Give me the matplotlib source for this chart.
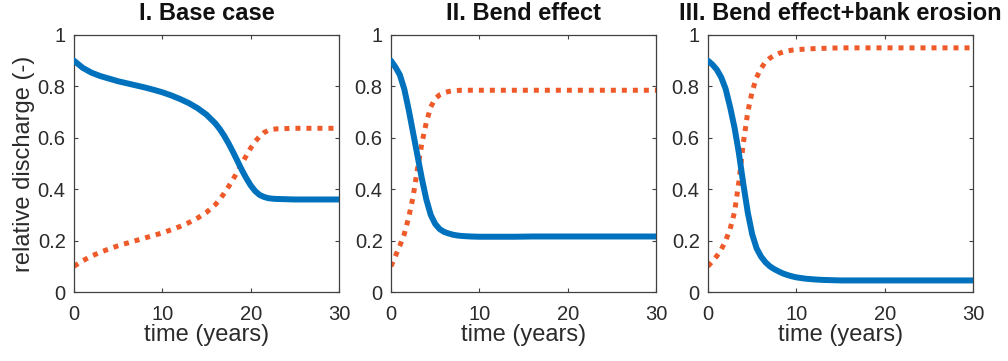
import numpy as np
import matplotlib
matplotlib.use("Agg")
import matplotlib.pyplot as plt

plt.rcParams['font.family'] = ['Liberation Sans', 'DejaVu Sans']

# panel I: base case
t1 = [0, 1, 2, 3, 4, 5, 6, 7, 8, 9, 10, 11, 12, 13, 14, 15, 16, 16.5, 17, 17.5, 18, 18.5,
      19, 19.5, 20, 20.5, 21, 21.5, 22, 22.5, 23, 24, 25, 26, 27, 28, 29, 30]
main1 = [0.900, 0.872, 0.853, 0.840, 0.830, 0.820, 0.812, 0.804, 0.796, 0.787, 0.777, 0.765,
         0.751, 0.735, 0.715, 0.690, 0.656, 0.634, 0.608, 0.578, 0.545, 0.510, 0.475, 0.443,
         0.415, 0.393, 0.378, 0.370, 0.365, 0.363, 0.362, 0.361, 0.360, 0.360, 0.360, 0.360,
         0.360, 0.360]
side1 = [0.100, 0.122, 0.140, 0.155, 0.168, 0.180, 0.190, 0.200, 0.210, 0.220, 0.230, 0.242,
         0.255, 0.270, 0.288, 0.310, 0.340, 0.360, 0.384, 0.410, 0.438, 0.468, 0.500, 0.530,
         0.560, 0.585, 0.605, 0.620, 0.629, 0.633, 0.635, 0.636, 0.637, 0.637, 0.637, 0.637,
         0.637, 0.637]

# panel II: bend effect
t2 = [0, 0.5, 1, 1.5, 2, 2.5, 3, 3.5, 4, 4.5, 5, 5.5, 6, 6.5, 7, 7.5, 8, 9, 10,
      12, 14, 16, 18, 20, 22, 24, 26, 28, 30]
main2 = [0.900, 0.875, 0.845, 0.790, 0.710, 0.620, 0.530, 0.440, 0.360, 0.300, 0.265, 0.245,
         0.234, 0.228, 0.223, 0.220, 0.218, 0.216, 0.215, 0.215, 0.215, 0.216, 0.216, 0.216,
         0.216, 0.216, 0.216, 0.216, 0.216]
side2 = [0.100, 0.140, 0.180, 0.225, 0.290, 0.370, 0.480, 0.580, 0.660, 0.720, 0.752, 0.767,
         0.775, 0.780, 0.783, 0.784, 0.785, 0.785, 0.785, 0.785, 0.785, 0.785, 0.785, 0.785,
         0.785, 0.785, 0.785, 0.785, 0.785]

# panel III: bend effect + bank erosion
t3 = [0, 0.5, 1, 1.5, 2, 2.5, 3, 3.5, 4, 4.5, 5, 5.5, 6, 6.5, 7, 7.5, 8, 8.5, 9, 9.5, 10,
      11, 12, 13, 14, 15, 18, 21, 24, 27, 30]
main3 = [0.900, 0.885, 0.865, 0.835, 0.790, 0.720, 0.640, 0.540, 0.420, 0.310, 0.225, 0.170,
         0.138, 0.116, 0.100, 0.089, 0.080, 0.072, 0.066, 0.061, 0.057, 0.052, 0.049, 0.047,
         0.046, 0.045, 0.045, 0.045, 0.045, 0.045, 0.045]
side3 = [0.100, 0.120, 0.140, 0.165, 0.200, 0.245, 0.310, 0.430, 0.580, 0.700, 0.780, 0.835,
         0.870, 0.895, 0.910, 0.920, 0.928, 0.934, 0.938, 0.941, 0.943, 0.945, 0.947, 0.948,
         0.949, 0.950, 0.950, 0.950, 0.950, 0.950, 0.950]

titles = ["I. Base case", "II. Bend effect", "III. Bend effect+bank erosion"]
lefts = [74, 391, 708]

blue = '#0072BD'
orange = '#EE5A2A'
txt = '#2b2b2b'

fig = plt.figure(figsize=(10.08, 3.61), dpi=100)
W, H = 1008, 361
panels = [(t1, main1, side1), (t2, main2, side2), (t3, main3, side3)]

for i, (t, m, s) in enumerate(panels):
    ax = fig.add_axes([lefts[i] / W, (H - 292) / H, 265 / W, 257 / H])
    ax.plot(t, s, color=orange, lw=3.6, ls=(0, (1, 1.2)), dash_capstyle='butt', zorder=2)
    ax.plot(t, m, color=blue, lw=4.3, solid_capstyle='round', zorder=3)
    ax.set_xlim(0, 30)
    ax.set_ylim(0, 1)
    ax.set_xticks([0, 10, 20, 30])
    ax.set_yticks([0, 0.2, 0.4, 0.6, 0.8, 1])
    ax.set_yticklabels(['0', '0.2', '0.4', '0.6', '0.8', '1'])
    ax.tick_params(direction='in', length=3, width=0.8, top=True, right=True,
                   labelsize=14.5, labelcolor=txt, color='#404040')
    ax.tick_params(axis='x', pad=9)
    ax.tick_params(axis='y', pad=6)
    for sp in ax.spines.values():
        sp.set_color('#404040')
        sp.set_linewidth(0.9)
    ax.set_title(titles[i], fontsize=17, fontweight='bold', color='#111111', pad=11)
    ax.set_xlabel("time (years)", fontsize=17, color=txt, labelpad=0)
    if i == 0:
        ax.set_ylabel("relative discharge (-)", fontsize=17, color=txt, labelpad=2)

fig.savefig("out.png", dpi=100, facecolor='white')
